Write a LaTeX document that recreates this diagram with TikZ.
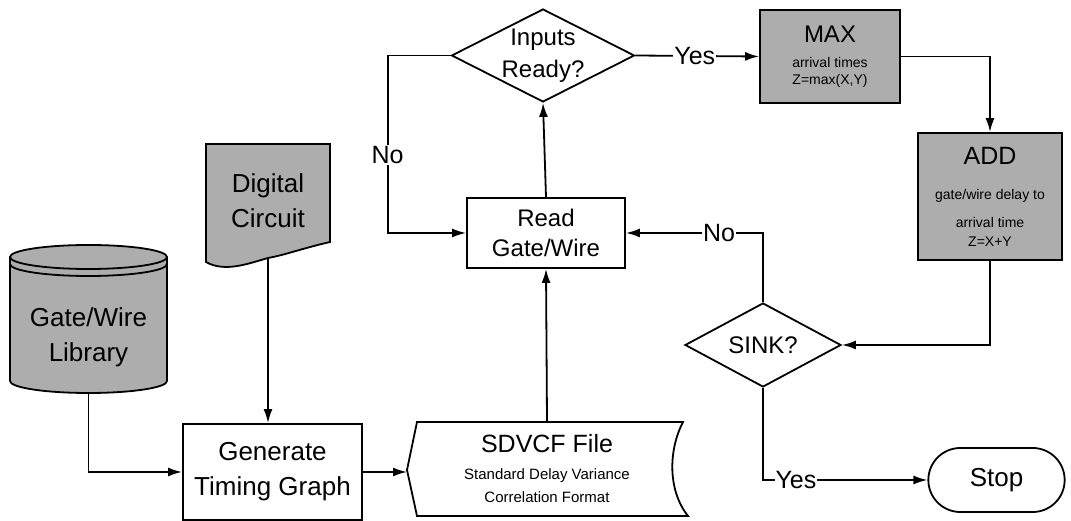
\documentclass[tikz,border=0pt]{standalone}
\usepackage{fontspec}
\setmainfont{Liberation Sans}
\usetikzlibrary{shapes.geometric,shapes.misc,arrows.meta}

\newcommand{\fsz}[1]{\fontsize{#1}{#1}\selectfont}

\tikzset{
	flow/.style={line width=1.8pt, -{Latex[length=14pt,width=9pt]}},
	plain/.style={line width=1.8pt},
	blk/.style={draw, line width=1.8pt, align=center},
	shade/.style={fill=black!32},
	tag/.style={fill=white, inner sep=1pt, font=\fsz{25}},
}

\begin{document}
\begin{tikzpicture}[x=1pt, y=1pt]
	\useasboundingbox (0,0) rectangle (1071,521);

	% library store
	\filldraw[shade, line width=1.8pt] (10,264) -- (10,140) arc (180:360:78.5 and 12) -- (167,264) arc (0:180:78.5 and 12) -- cycle;
	\draw[plain] (10,264) arc (180:360:78.5 and 12);
	\draw[plain] (10,257) arc (180:360:78.5 and 12);
	\node[align=center, font=\fontsize{26}{35}\selectfont] (lib) at (88.5,183.5) {Gate/Wire\\Library};
	\coordinate (libbase) at (88.5,128);

	% circuit document
	\filldraw[shade, line width=1.8pt] (206,377) -- (330,377) -- (330,279) .. controls (300,272) and (285,266) .. (268,263) .. controls (250,258) and (225,248) .. (206,259) -- cycle;
	\node[align=center, minimum height=114pt, font=\fontsize{26}{35}\selectfont] (dc) at (268,320) {Digital\\Circuit};

	\node[blk, minimum width=179pt, minimum height=96pt, font=\fontsize{26}{35}\selectfont] (gen) at (272.5,49) {Generate\\Timing Graph};

	% sdvcf file
	\draw[plain] (407,51) -- (417,99) -- (683,99) .. controls (668,70) and (668,30) .. (688,5) -- (417,5) -- cycle;
	\node[align=center, minimum height=95pt, font=\fontsize{15}{23}\selectfont] (sdv) at (547,52)
		{\fsz{25}SDVCF File\\[4pt]Standard Delay Variance\\Correlation Format};

	\node[blk, minimum width=158pt, minimum height=70pt, font=\fontsize{24}{30}\selectfont] (read) at (546,288) {Read\\Gate/Wire};

	\node[draw, diamond, line width=1.8pt, minimum width=183pt, minimum height=93pt,
		label={[align=center, font=\fontsize{24}{32}\selectfont]center:Inputs\\Ready?}] (inp) at (543,465.5) {};

	\node[blk, shade, minimum width=140pt, minimum height=93pt, font=\fontsize{14}{17}\selectfont] (max) at (830,464.5)
		{\fsz{24}MAX\\[8pt]arrival times\\Z=max(X,Y)};

	\node[blk, shade, minimum width=144pt, minimum height=127pt, font=\fontsize{14}{19}\selectfont] (add) at (990,324.5)
		{\fsz{25}ADD\\[16pt]gate/wire delay to\\[9pt]arrival time\\Z=X+Y};

	\node[draw, diamond, line width=1.8pt, minimum width=156pt, minimum height=84pt,
		label={[font=\fsz{24}]center:SINK?}] (sink) at (763,176) {};

	\node[draw, rounded rectangle, line width=1.8pt, minimum width=143pt, minimum height=64pt, font=\fsz{26}] (stop) at (996.5,41) {Stop};

	% connectors
	\draw[flow] (libbase) |- (gen.west);
	\draw[flow] (dc.south) -- (dc.south |- gen.north);
	\draw[flow] (gen.east) -- (407,49);
	\draw[flow] (sdv.north) -- (read.south);
	\draw[flow] (read.north) -- (inp.south);
	\draw[flow] (inp.west) -- ++(-63,0) |- (read.west) node[tag, pos=0.28] {No};
	\draw[flow] (inp.east) -- (max.west) node[tag, pos=0.48] {Yes};
	\draw[flow] (max.east) -| (add.north);
	\draw[flow] (add.south) |- (sink.east);
	\draw[flow] (sink.north) |- (read.east) node[tag, pos=0.66] {No};
	\draw[flow] (sink.south) |- (stop.west) node[tag, pos=0.6] {Yes};

\end{tikzpicture}
\end{document}
